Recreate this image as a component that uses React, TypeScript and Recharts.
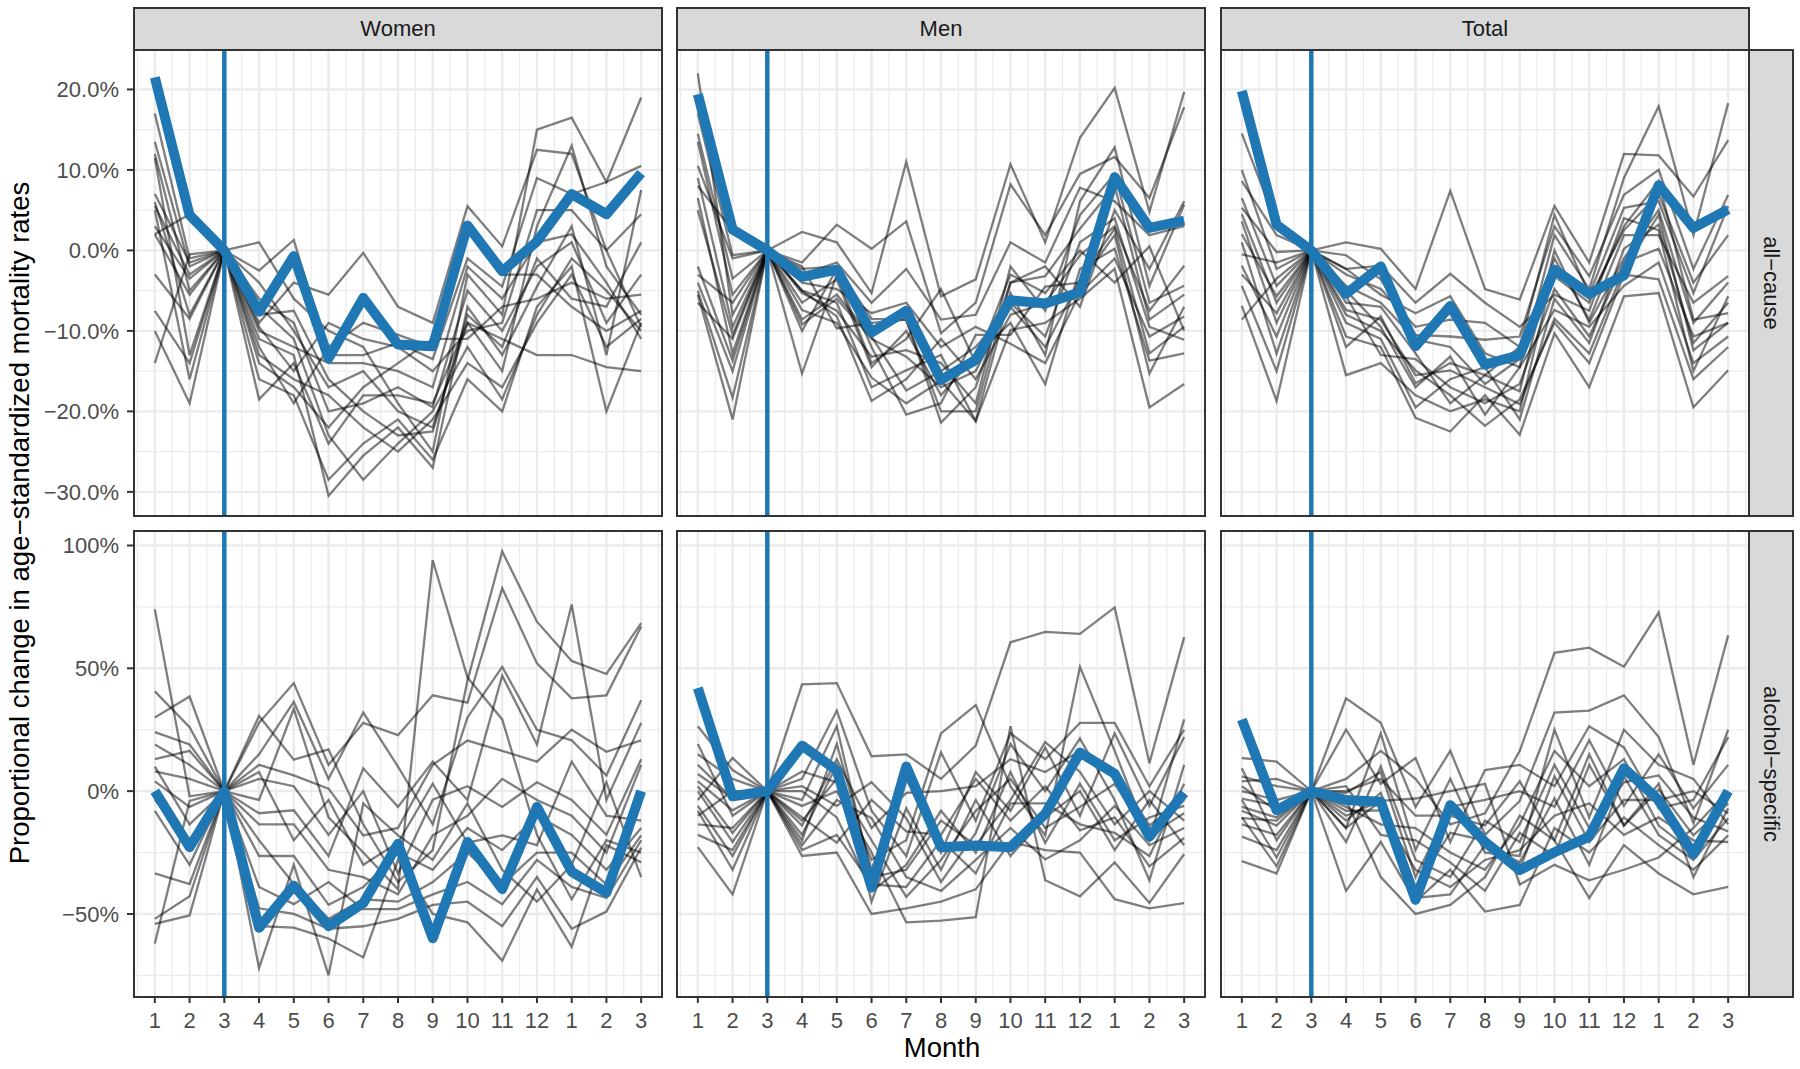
import { LineChart, Line, XAxis, YAxis, ReferenceLine, CartesianGrid } from "recharts";

const MONTH_LABELS = ["1", "2", "3", "4", "5", "6", "7", "8", "9", "10", "11", "12", "1", "2", "3"];
const SEXES = ["Women", "Men", "Total"];
const CAUSES = ["all−cause", "alcohol−specific"];

// all-cause: one row per region, months 1..15
const WOMEN_ALL = [
  [17, -1, 0, -4, -10, -17, -15, -20, -22, -9, -15, 3, 13, -2, -8],
  [13.5, -2, 0, 1, -6, -10, -12, -19, -25, -3, -8, 15, 16.5, 8.5, 19],
  [12, -5, 0, -9, -4, -5.5, -0.3, -7, -9, 5.5, 0.5, 12.5, 12, 0, -9.5],
  [11.5, -13, 0, -7, -11, -23, -28.5, -24, -20, -12, -18.5, -8, -1, -5, -10],
  [7, -1.5, 0, -2.5, 1.3, -13, -13, -11.5, -13.5, -1, -4.5, 9, 7, 8.5, 10.5],
  [6, -8, 0, -11, -13, -30.5, -25.5, -22, -27, -7, -13, -4.5, 3, -13, 7.5],
  [5.5, -3, 0, -6, -9, -20, -19, -17, -19.5, -5, -10, -2, 1, -9, -3],
  [5, -16, 0, -13, -16, -18, -22, -25, -21, -14, -17, -9, -3, -12, -8.5],
  [3, -3.5, 0, -9.5, -15, -9, -11, -12, -15, -10, -9, 5, 5, 0, 4.5],
  [2, 4.5, 0, -8, -7.5, -16, -20, -23, -22.5, -8, -12, -1, -6, -7, 1],
  [2, -5.5, 0, -10, -12, -14, -14, -15, -17, -2, -6, 1, 2, -4, -11],
  [-3, -8.5, 0, -18.5, -14, -24, -18, -18, -19, -9, -11, -13, -13, -14.5, -15],
  [-7.5, -14, 0, -14, -17, -22, -17, -14, -11, -11, -7, -6, -4, -6, -5.5],
  [-10, -19, 0, -16, -18, -28.5, -24, -21, -26, -16, -20, -7, -2, -20, -9],
  [-14, -0.5, 0, -12, -19, -12, -9, -10.5, -12, 3, -3, -3, -7, -10, -7.5],
];
const WOMEN_ALL_AVG = [21.5, 4.4, 0, -7.6, -0.7, -13.4, -5.9, -11.7, -11.9, 3.1, -2.6, 1.1, 7.0, 4.5, 9.6];

const MEN_ALL = [
  [22, -8, 0, -5, -6.5, -17, -14.9, -13, -21.2, -5.3, -13, 6.1, 12.8, -4.4, 5.7],
  [17, -0.6, 0, 2.3, 1, -5.3, 11, -5.7, -3.6, 10.7, 1, 14, 20.2, 4.8, 19.7],
  [14.5, -3.5, 0, -1.5, 3.2, 0.2, 3.6, -10.3, -6.5, 8.2, 1.9, 9.5, 11.6, 6.5, 17.8],
  [13.5, -5.5, 0, -8.6, -5.5, -10.7, -17.4, -15, -12, -7, -12, -3.6, 2.7, -12.8, -9.5],
  [10.5, -1, 0, -2, -9.7, -9, -8.6, -21.4, -17, -4, -3.2, 2.7, 8, -8.6, -5.5],
  [9, -9.5, 0, -6.5, -3.6, -14.5, -10, -18, -13, -9, -16.6, -2.3, 0.2, -13.7, -12.8],
  [6.5, -12.8, 0, -5.3, -7.5, -13.2, -12.4, -14, -19, -2, -7.5, 4.4, 9.5, -6.5, -4.4],
  [5, -10.5, 0, -4, -4.8, -7.8, -6.5, -12, -9.5, -11.6, -14, -5.3, -1, -10.7, -8.2],
  [8, 2.5, 0, -3, -1.5, -6.5, -2.3, -8.6, -8, 1, -1.5, 7.8, 6.1, 1.9, 3],
  [-2, -13.7, 0, -7.4, -9, -15.8, -19, -16.2, -21.2, -9.9, -9, -6, -2.3, -19.5, -16.6],
  [-3, -6.5, 0, -9.2, -6, -11, -13.2, -17, -15, -6.5, -10.7, 1, 4, -9.5, -11.1],
  [-5, -18.3, 0, -5, -8.2, -18.7, -16, -11, -16, -8, -6.5, -0.6, 3, -7.5, -1.9],
  [-5.5, -21, 0, -10, -2.3, -12, -20.4, -19, -10.5, -10.5, -4.5, -4, 1.9, -15.3, -7],
  [-6.5, -11, 0, -15.3, -3, -14, -11, -4.8, -14, -3, -5.3, 0, -4, 0.5, -10],
  [-4, -15, 0, -2.3, -2, -8.5, -8.6, -20, -20, -4, -2, -7, 5, -2.3, 6.1],
];
const MEN_ALL_AVG = [19.4, 2.6, 0, -3.3, -2.4, -10.2, -7.5, -16.1, -13.6, -6.2, -6.6, -5.2, 9.1, 2.8, 3.7];

const TOTAL_ALL = [
  [14.5, 3.2, 0, -2.3, -5.5, -7.8, -5.7, -12.8, -14.5, 1.9, -4.8, 9, 17.9, 1.9, 18.3],
  [10, -2.3, 0, -7.4, -8.6, -15.5, -14.9, -17, -19.1, -8.5, -12.8, -2.3, 4.4, -12.4, -9],
  [8.6, 1.9, 0, 1, 0.2, -4.8, 7.4, -4.8, -6.1, 5.5, -1.5, 12, 11.8, 6.7, 13.7],
  [6.5, -4.4, 0, -6.5, -7, -12.8, -19, -15.5, -12, -3.2, -6.5, 3, 8.6, -8.6, -7.8],
  [5.3, -0.2, 0, -0.6, -3.6, -10.5, -10.7, -11.1, -10.7, 3, -3.2, 6.9, 10, -2.3, 6.9],
  [4.5, -6.5, 0, -5, -9.5, -17, -13.2, -20.4, -14.5, -7.4, -9.5, -4.4, -1.5, -14, -10.7],
  [3.6, -9, 0, -9, -11, -19.5, -16, -14.5, -21, -6, -11.5, 0.2, 3.2, -11.5, -6.5],
  [2, -5.7, 0, -3, -4.8, -9.5, -8.6, -9, -12, 4.4, -5.5, 5.3, 6.1, -5.3, 5.5],
  [1, -12.8, 0, -10.7, -12, -20.8, -22.5, -18, -22.9, -10.3, -17, -5.7, -5.3, -19.5, -14.9],
  [-0.5, -1.5, 0, -4.4, -6.5, -11.1, -12, -16.6, -13.5, -1, -8.6, 1.9, 1.9, -6.5, -3.2],
  [-1.9, -10.7, 0, -8, -10, -14.9, -18, -21.8, -18.5, -9, -14, -3, -3.6, -16, -12],
  [-3, -7.8, 0, -5.7, -13, -13.5, -17, -19, -16.6, -4.8, -10.7, -1.5, 0.2, -10.7, -9],
  [-4.4, -15, 0, -15.5, -14, -18, -20, -18.5, -20, -2, -6, 2.5, 7, -4, 1.9],
  [-6.9, -18.7, 0, -12, -8.2, -16.5, -14, -15.5, -17.5, 0, -9, -1, 5, -9, -4],
  [-8.6, -3.5, 0, -2.3, -1.9, -6.5, -2.9, -6.5, -9.5, -5.5, -7.5, 4, 2.5, -15, -5.7],
];
const TOTAL_ALL_AVG = [19.8, 3.2, 0, -5.4, -2.0, -11.9, -6.9, -14.2, -13.0, -2.4, -5.4, -3.1, 8.1, 2.8, 5.1];

// alcohol-specific
const WOMEN_ALC = [
  [74, -2.1, 0, -3.6, 33.5, -10.7, -25, -40, 94, 46.3, 29.2, -17.8, -44, -20, -25],
  [40.6, 26, 0, 30.6, 12.8, 17, -13.5, -37, -24, 45, 97.6, 69, 53, 47.7, 68.4],
  [30, 38.5, 0, 27.8, 44, 10.7, 27.8, 22.8, 39, 36, 82.6, 52, 37.8, 39, 67],
  [24, 19, 0, 15, 36.3, 5, 32, 10, -13.5, 30, 50.6, 25, 20.7, 6.4, 37],
  [19, 10.7, 0, -9, -7.8, -26.4, 9.3, -6.4, 12, -3.6, 47, 19, 76, -3.6, 27.8],
  [13, 16.4, 0, 10.7, 6.4, 1, -18, -15, 10.7, 20.6, 16.4, 12, 25, 16, 20.7],
  [10, -13.5, 0, 7.8, -20, -3.6, -30, -21, 3, -21, -18, -22, 12, -10, -12],
  [8, 5, 0, 5, 2, -17.8, 0, -33.5, -3.5, 2, -6.4, 3.6, -3.6, -17.8, 13],
  [4, -6.4, 0, -13.5, -13.5, -32, -35, -42, -18, -10, 5, -3.6, -10, -25, 10.7],
  [-3.5, -20.7, 0, -26.4, -26.4, -46.3, -39, -25, -32, -15, -24, -10, -17.8, -32, -15],
  [-8, -30, 0, -20, -37.8, -52, -44, -45, -37, -25, -38, -25, -25, -38, -18],
  [-33.5, -37.8, 0, -39, -46, -37, -48, -48, -42, -37, -46, -28, -39, -43.5, -20],
  [-52, -42.8, 0, -47.7, -50, -56, -55, -52, -46.3, -45, -55, -35, -56, -49, -23],
  [-54, -50.6, 0, -55, -55.6, -60, -67.7, -28, -50, -53.4, -69, -40, -63.4, -22, -29],
  [-62, -4, 0, -72, -30, -75, -5, -18, -28, -5, -32, -45, -30, 3.6, -35],
];
const WOMEN_ALC_AVG = [0, -22.8, 0, -55.6, -38.5, -54.9, -45.6, -21.4, -59.9, -20.7, -39.9, -6.4, -32.8, -41.3, 0];

const MEN_ALC = [
  [7, -3, 0, 43.5, 44, 14.2, 15, 5, 18.5, 60.6, 64.8, 64, 74.8, 11.4, 62.7],
  [26.4, 8.6, 0, -12, 5, -28, -20, 23.5, 35, 2, -18, 50.6, 16.4, -20, 29.2],
  [-3.6, 13.5, 0, 5, 32.8, -8, -26.4, 15.7, -12, 23.5, 13, 27.8, 27.8, 2, 25],
  [19.2, -10, 0, -20, 19.2, -32, 5, -25, 7.8, -8, 17.8, -10, 23.5, -6, 22],
  [10.7, -3, 0, 2, -6, 3.6, -11, -37, -17, 19.2, 0, 21.4, -3.6, -36.3, 10.7],
  [0, -20.7, 0, -14, 13, -15, -0.7, 0, 2, 13, 7.8, 16.4, 7.8, -14, -3.6],
  [4, -7.8, 0, -3.6, 26.4, -35, -32, -12, -22, -3.6, 20, 7.8, -13.5, 0, -12],
  [15, 5, 0, 8, 3.6, -20, -43, -28, -8, 5, -15, -6.4, 3, -17.8, -9],
  [-6, -26.4, 0, -10.7, -21, -3.6, -16.4, -17.8, 5, -12, 2, -16, -10.7, -30.6, -19],
  [-13.5, -15, 0, 0, -10.7, -40.6, -30, -8, -25, 7.8, -21, 3, -20, -10.7, -6],
  [2, -17, 0, -22, -3.6, -11, -35, -40.6, -28, -15, -27.8, -20, -6, -22, -15],
  [-8, -32, 0, -24, -17.8, -38, -39, -20, -33.5, -5, -5, -13.5, -17, -26.4, 3],
  [-17.8, -24, 0, -17.8, 10.7, -45, -7, -32, -3.6, -26.4, -10.7, 0, -24, -3.6, -22],
  [-10, 0, 0, -26.4, -25, -50, -47.7, -45, -40, -20.7, -24, -25, -44, -47.7, -45.6],
  [-22.8, -42, 0, -6, 0, -25, -53.4, -52.7, -51.3, 26.4, -36.3, -42.8, -29, -45.5, -25.6],
];
const MEN_ALC_AVG = [42, -2.1, 0, 18.5, 8.5, -39.2, 10, -22.8, -22.1, -22.8, -9.3, 15.7, 7.1, -18.5, -0.7];

const TOTAL_ALC = [
  [0, -3.6, 0, 5, 16.4, 5, -13.5, -9, 16.4, 56.3, 58.4, 50.6, 72.7, 10.7, 63.4],
  [13.5, 12, 0, 37.8, 27.8, -6.4, 16.4, -17.8, -4, 32, 32.8, 39, 22, -13, 25],
  [9.3, -20, 0, 25, 3, 13.5, -20.7, 8.6, 10.7, 2, 26.4, 17.8, -7, -3.6, 22],
  [6, 2, 0, -15, 23.5, -24, 5, -25, -26.4, 25, -10.7, 25, 10.7, 5, -13.5],
  [2, -8, 0, -0.7, 7.8, -35, -6.4, -3.6, 0, -6.4, 20.7, -6, 15, -7, 10.7],
  [-3.6, -27, 0, -6.4, -13.5, -15, -25, -32, -13.5, 16.4, 2, 13, -14, -25, -2],
  [-6.4, -10.7, 0, -20.7, 10, -28, -35, -12, -20.7, 10.7, -15, 3.6, 6.4, -10.7, -16.4],
  [-8, -14, 0, 2, -17.8, -20, -29, -40.6, -17, -26.4, 10.7, -14, 0.7, -18, -5],
  [-10.7, -30.6, 0, -12, -0.7, -39, -17, -20, -32, 6, -20.7, -3.6, -3.6, 0, -9],
  [-13.5, -17.8, 0, -8, -7.8, -32, -39, -28, -24, -10, -5, -17.8, -10.7, -20, -20.7],
  [-18.5, -24, 0, -10, -4, -43.5, -42, -22, -29, -3, -30, 6, -17.8, -28, -11],
  [-28.5, -33.5, 0, -40.6, -20.7, -45, -32, -49, -46.3, -15, -25, -10.7, -22, -32, -18],
  [-3, -6, 0, -3.6, -35, -50, -46.3, -35, -10, -20, -43.5, -22, -33.5, -42, -39],
  [4, 5, 0, -15, -4, -3, 0, 3, -38, -30, -36.3, -32, -27, -15, 0],
  [-11, -12, 0, 0, 5, -10, -10, -14, 4, -20, 15, -14, 3, -35, -7],
];
const TOTAL_ALC_AVG = [29.2, -7.8, 0, -3.6, -4.3, -44.2, -5.7, -20.7, -32.1, -24.9, -18.5, 9.3, -3.6, -25.6, 0];

const PANELS = [
  [{ lines: WOMEN_ALL, avg: WOMEN_ALL_AVG }, { lines: MEN_ALL, avg: MEN_ALL_AVG }, { lines: TOTAL_ALL, avg: TOTAL_ALL_AVG }],
  [{ lines: WOMEN_ALC, avg: WOMEN_ALC_AVG }, { lines: MEN_ALC, avg: MEN_ALC_AVG }, { lines: TOTAL_ALC, avg: TOTAL_ALC_AVG }],
];

const Y_DOMAINS = [[-33, 24.9], [-83.8, 105.9]];
const Y_TICKS = [[-30, -20, -10, 0, 10, 20], [-50, 0, 50, 100]];
const Y_MINOR = [[-25, -15, -5, 5, 15], [-75, -25, 25, 75]];
const X_TICKS = MONTH_LABELS.map((_, i) => i + 1);
const X_MINOR = [0, ...X_TICKS].map((v) => v + 0.5);

const FONT = "'Liberation Sans', Arial, Helvetica, sans-serif";
const BLUE = "#1F78B4";
const PANEL_W = 528;
const PANEL_H = 466;
const COL_X = [134, 677, 1221];
const ROW_Y = [50, 531];
const Y_AXIS_W = 134;
const X_AXIS_H = 60;

function fmtPct(v: number, row: number) {
  const sign = v < 0 ? "−" : "";
  const a = Math.abs(v);
  return sign + (row === 0 ? a.toFixed(1) : String(a)) + "%";
}

function Panel({ row, col }: { row: number; col: number }) {
  const { lines, avg } = PANELS[row][col];
  const data = MONTH_LABELS.map((_, i) => {
    const d: Record<string, number> = { m: i + 1, avg: avg[i] };
    lines.forEach((l, j) => (d["s" + j] = l[i]));
    return d;
  });
  const showY = col === 0;
  const showX = row === 1;
  const w = PANEL_W + (showY ? Y_AXIS_W : 0);
  const h = PANEL_H + (showX ? X_AXIS_H : 0);
  const tickStyle = { fill: "#4D4D4D", fontSize: 22, fontFamily: FONT };

  return (
    <div style={{ position: "absolute", left: COL_X[col] - (showY ? Y_AXIS_W : 0), top: ROW_Y[row] }}>
      <LineChart width={w} height={h} data={data} margin={{ top: 0, right: 0, bottom: 0, left: 0 }}>
        <CartesianGrid stroke="#EBEBEB" strokeWidth={1.2} horizontalValues={Y_MINOR[row]} verticalValues={X_MINOR} />
        <CartesianGrid stroke="#EBEBEB" strokeWidth={2.4} horizontalValues={Y_TICKS[row]} verticalValues={X_TICKS} />
        <XAxis
          type="number"
          dataKey="m"
          domain={[0.4, 15.6]}
          ticks={X_TICKS}
          interval={0}
          allowDataOverflow
          hide={!showX}
          height={X_AXIS_H}
          axisLine={false}
          tickLine={{ stroke: "#333333", strokeWidth: 2 }}
          tickSize={6}
          tickMargin={9}
          tick={tickStyle}
          tickFormatter={(v: number) => MONTH_LABELS[v - 1]}
        />
        <YAxis
          type="number"
          domain={Y_DOMAINS[row]}
          ticks={Y_TICKS[row]}
          interval={0}
          allowDataOverflow
          hide={!showY}
          width={Y_AXIS_W}
          axisLine={false}
          tickLine={{ stroke: "#333333", strokeWidth: 2 }}
          tickSize={7}
          tickMargin={8}
          tick={tickStyle}
          tickFormatter={(v: number) => fmtPct(v, row)}
        />
        {lines.map((_, j) => (
          <Line
            key={j}
            type="linear"
            dataKey={"s" + j}
            stroke="#000000"
            strokeOpacity={0.5}
            strokeWidth={2.3}
            dot={false}
            activeDot={false}
            isAnimationActive={false}
          />
        ))}
        <ReferenceLine x={3} stroke={BLUE} strokeWidth={4.5} />
        <Line
          type="linear"
          dataKey="avg"
          stroke={BLUE}
          strokeWidth={10}
          strokeLinejoin="round"
          dot={false}
          activeDot={false}
          isAnimationActive={false}
        />
      </LineChart>
      <div
        style={{
          position: "absolute",
          left: showY ? Y_AXIS_W - 1 : -1,
          top: -1,
          width: PANEL_W + 2,
          height: PANEL_H + 2,
          border: "2px solid #333333",
          boxSizing: "border-box",
          pointerEvents: "none",
        }}
      />
    </div>
  );
}

const stripStyle = {
  position: "absolute" as const,
  background: "#D9D9D9",
  border: "2px solid #333333",
  boxSizing: "border-box" as const,
  display: "flex",
  alignItems: "center",
  justifyContent: "center",
  fontSize: 22,
  color: "#1A1A1A",
  fontFamily: FONT,
};

export default function App() {
  return (
    <div style={{ position: "absolute", left: 0, top: 0, width: 1800, height: 1069, background: "#ffffff", fontFamily: FONT }}>
      {SEXES.map((s, c) => (
        <div key={s} style={{ ...stripStyle, left: COL_X[c] - 1, top: 7, width: PANEL_W + 2, height: 44 }}>
          {s}
        </div>
      ))}
      {CAUSES.map((cause, r) => (
        <div key={cause} style={{ ...stripStyle, left: 1748, top: ROW_Y[r] - 1, width: 46, height: PANEL_H + 2 }}>
          <span style={{ transform: "rotate(90deg)", whiteSpace: "nowrap" }}>{cause}</span>
        </div>
      ))}
      {[0, 1].map((r) => [0, 1, 2].map((c) => <Panel key={r + "-" + c} row={r} col={c} />))}
      <div
        style={{
          position: "absolute",
          left: 20 - 450,
          top: 523 - 18,
          width: 900,
          height: 36,
          lineHeight: "36px",
          textAlign: "center",
          fontSize: 27.5,
          color: "#000000",
          transform: "rotate(-90deg)",
          whiteSpace: "nowrap",
        }}
      >
        Proportional change in age−standardized mortality rates
      </div>
      <div
        style={{
          position: "absolute",
          left: 942 - 200,
          top: 1030,
          width: 400,
          height: 36,
          lineHeight: "36px",
          textAlign: "center",
          fontSize: 27.5,
          color: "#000000",
        }}
      >
        Month
      </div>
    </div>
  );
}
